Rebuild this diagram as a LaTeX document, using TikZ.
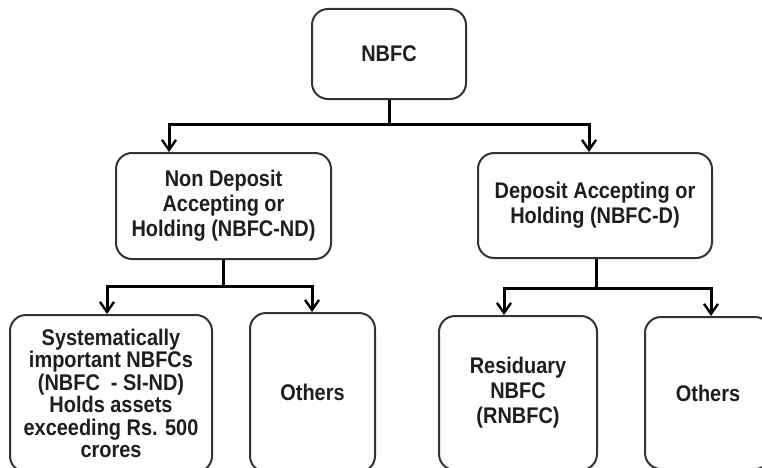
\documentclass[tikz,border=0pt]{standalone}
\usepackage{fontspec}
\setmainfont{Liberation Sans}[FakeStretch=0.88]
\usetikzlibrary{arrows.meta}
\definecolor{txt}{HTML}{1E1E1E}
\definecolor{bord}{HTML}{333333}
\tikzset{
  box/.style={draw=bord, line width=1.5pt, rounded corners=12pt, align=center,
    inner sep=0pt, text=txt, font=\fontsize{17}{18.75}\selectfont\bfseries},
  conn/.style={line width=2.25pt, black},
  arr/.style={conn, -{Straight Barb[length=7.5pt,width=10.5pt,line width=1.8pt]}},
}
\begin{document}
\begin{tikzpicture}[x=0.75pt,y=-0.75pt]
\useasboundingbox (0,0) rectangle (762,467);
\clip (0,0) rectangle (762,467);
\node[box, minimum width=115.5pt, minimum height=67.5pt] (nbfc) at (389,54) {NBFC};
\node[box, minimum width=161.25pt, minimum height=79.5pt] (nd) at (223.5,206) {Non Deposit\\Accepting or\\Holding (NBFC-ND)};
\node[box, minimum width=175.5pt, minimum height=78.75pt] (d) at (595,205.5) {Deposit Accepting or\\Holding (NBFC-D)};
\node[box, minimum width=151.5pt, minimum height=117.75pt, font=\fontsize{17}{16.9}\selectfont\bfseries] (si) at (111,393.5) {Systematically\\important NBFCs\\(NBFC \ - SI-ND)\\Holds assets\\exceeding Rs. 500\\crores};
\node[box, minimum width=93.75pt, minimum height=119.25pt] (o1) at (312.5,392.5) {Others};
\node[box, minimum width=118.5pt, minimum height=115.5pt] (r) at (518,393) {Residuary\\NBFC\\(RNBFC)};
\node[box, minimum width=94.5pt, minimum height=114pt] (o2) at (708,393) {Others};
\coordinate (a1) at (169,124);
\coordinate (a2) at (589,124);
\coordinate (b1) at (107,286);
\coordinate (b2) at (312,286);
\coordinate (c1) at (504,288);
\coordinate (c2) at (711,288);
\draw[arr] (nbfc.south) |- (a1) -- (nd.north -| a1);
\draw[arr] (nbfc.south) |- (a2) -- (d.north -| a2);
\draw[arr] (nd.south) |- (b1) -- (si.north -| b1);
\draw[arr] (nd.south) |- (b2) -- (o1.north -| b2);
\draw[arr] (d.south) ++(1,0) |- (c1) -- (r.north -| c1);
\draw[arr] (d.south) ++(1,0) |- (c2) -- (o2.north -| c2);
\end{tikzpicture}
\end{document}
